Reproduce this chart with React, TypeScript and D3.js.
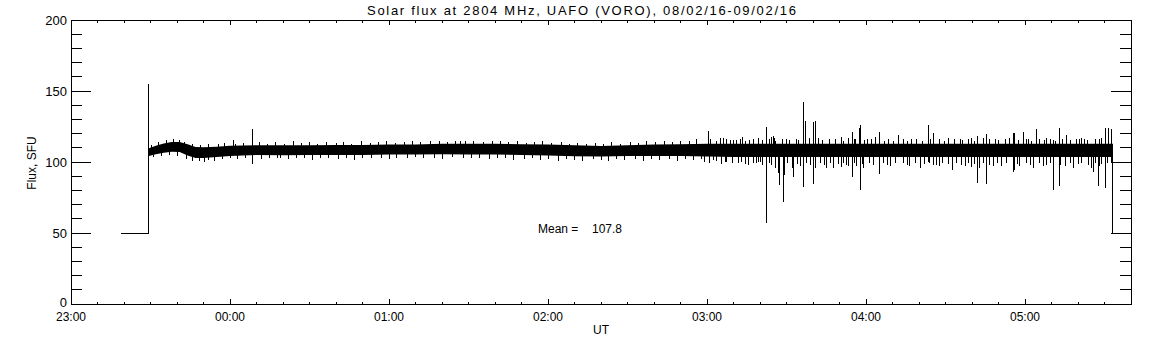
import React from "react";
import * as d3 from "d3";

// ---- data (time in minutes after 23:00 UT, flux in SFU) ----
const titleText = "Solar flux at 2804 MHz, UAFO (VORO),  08/02/16-09/02/16";
const yLabel = "Flux, SFU";
const xLabel = "UT";
const meanValue = "107.8";

const xTickMinutes = [0, 60, 120, 180, 240, 300, 360];
const xTickLabels = ["23:00", "00:00", "01:00", "02:00", "03:00", "04:00", "05:00"];
const yTicks = [0, 50, 100, 150, 200];

// calibration / step segments at start and end
const stepTime = [18.9, 29.1, 29.1, 29.4];
const stepValue = [50, 50, 155, 108];
const endTime = [393.2, 393.2];
const endValue = [108, 50];

// core band envelope
const bandTime = [29.4, 32, 35, 38, 41, 44, 47, 50, 55, 60, 70, 80, 90, 100, 110, 120, 130, 140, 150, 160, 170, 180, 190, 200, 210, 220, 230, 240, 250, 260, 280, 300, 320, 340, 360, 380, 393.2];
const bandUpper = [109.6, 111.5, 113, 114, 114, 112.5, 110.5, 110.3, 110.8, 111.5, 111.8, 111.8, 111.8, 112, 112, 112.3, 112.3, 112.8, 112.8, 112.8, 112.5, 112.3, 111.8, 111.3, 111.8, 112.3, 112.5, 112.8, 112.8, 112.8, 112.8, 112.8, 112.8, 112.8, 112.8, 112.8, 112.8];
const bandLower = [104.2, 105.5, 106.5, 107.3, 107, 104.5, 102.8, 102.8, 103.5, 104.2, 105, 104.8, 105, 105, 105, 105.3, 105.3, 105.5, 105.3, 105.3, 105, 104.5, 104, 103.8, 104.2, 104.2, 104.2, 103.8, 103.5, 103.5, 103.5, 103.5, 103.5, 103.5, 103.5, 103.5, 103.5];

// large spikes: time, low end, high end
const spikeTime = [
  50.3, 61.2, 68.4, 79.2, 146.8, 238.9, 240.5, 242.4, 246.2, 246.8, 248.7, 251.2, 251.8, 253.5, 255.6, 256.2, 258.7, 260.0,
  262.4, 265.0, 265.4, 265.7, 266.9, 267.5, 268.6, 268.8, 269.1, 271.3, 272.3, 272.6, 273.9, 275.1, 276.3, 277, 280.1, 281,
  282.0, 285.2, 286.4, 287.7, 290.6, 290.8, 292.7, 294.8, 296.2, 296.5, 297.4, 298.1, 299.0, 300.5, 305, 309.1, 312.2,
  316.6, 317.2, 320.4, 323.5, 325.3, 327.9, 331.1, 332.6, 335.5, 337.4, 339.9, 342.1, 343.0, 344.3, 345.4, 348.0, 348.7,
  351.2, 354.3, 355.5, 356.2, 358.1, 359.4, 361.3, 363.1, 364.4, 366.9, 368.2, 370.7, 372.9, 375.1, 375.7, 378.2, 379.5,
  382.6, 385.2, 385.8, 387.7, 388.3, 390.4, 391.5, 392.5,
];
const spikeLow = [
  100.2, 106, 98.8, 102.5, 108, 100.2, 104, 101.4, 106, 100.2, 106, 106, 99, 106, 97.8, 106, 99, 100.2,
  56.8, 106, 104, 95.5, 92.5, 83.8, 106, 71.6, 91, 106, 96, 89.7, 106, 97, 82.2, 104, 84.5, 95.5,
  106, 96, 106, 95.5, 96.7, 97, 98, 89.2, 106, 97, 104, 80, 96, 106, 91.8, 97, 104,
  97, 106, 96, 100, 98, 97, 106, 94.4, 106, 97, 96.7, 85.5, 96, 106, 84.5, 97, 106,
  97, 106, 93, 94.4, 97, 104, 106, 96, 104, 97, 106, 80.3, 83, 97, 104, 96, 106,
  106, 96, 92.7, 83, 97, 82, 104, 100,
];
const spikeHigh = [
  108, 115.5, 123.2, 108, 115, 110, 121.8, 110, 116.7, 110, 115.5, 115.5, 110, 117.8, 110, 115.5, 110, 110,
  124.4, 118.5, 117, 110, 112, 112, 116, 112, 110, 115.5, 110, 112, 116, 110, 142, 128.9, 128.4, 128.9,
  117, 110, 116, 112, 117.8, 110, 110, 121.4, 116, 110, 123.7, 126, 110, 116.5, 121.4, 110, 119,
  110, 116, 110, 126, 120.5, 116, 117, 112, 116, 110, 116.7, 118.5, 110, 117, 119.7, 110, 116,
  110, 117, 120.2, 120.7, 110, 120.9, 116, 110, 123.5, 110, 117, 115.5, 124.2, 110, 119, 110, 116,
  116.5, 110, 112, 112, 116, 123.7, 124.2, 123,
];

// small excursions above the band
const fuzzUpTime = [
  30.5, 33, 36, 38.5, 41, 43, 46, 49, 52, 55.5, 58, 62, 65, 71, 74, 77, 80.5, 84, 87, 90, 93, 96.5, 100, 103, 106,
  109.5, 113, 116, 119, 122.5, 126, 129, 132, 135.5, 139, 142, 145, 149, 152, 155.5, 159, 162, 165, 168.5, 172, 175,
  178, 181.5, 185, 188, 191, 194.5, 198, 201, 204, 207.5, 211, 214, 217, 220.5, 224, 227, 230, 233.5, 236,
  241.5, 243.5, 245, 247.5, 250, 252.5, 254.5, 257.5, 259.5, 261, 263.5, 264.5, 266, 270, 274.5, 278.5, 283.5, 288.5,
  291.5, 293.5, 295.5, 299.5, 302, 303.5, 307, 308.5, 310.5, 314, 315.5, 319, 321.5, 324.5, 329.5, 333.5, 336.5, 338.5,
  341, 346.5, 350, 352.5, 357.5, 360.5, 362.5, 365.5, 367.5, 369.5, 371.5, 374, 377, 380.5, 381.5, 383.5, 386.5, 389,
];
const fuzzUpValue = [
  112, 114, 115.5, 116, 115.5, 114, 112.5, 112, 112.5, 112.5, 113.5, 113, 113.5, 114, 113, 114, 113, 114.5, 113.5, 114, 113, 114, 113.5, 114, 113,
  114.5, 113.5, 114, 114.5, 113.5, 114, 115, 114, 114.5, 115, 114, 115, 114.5, 115, 114, 114.5, 115, 114, 114.5, 113.5, 114,
  114.5, 113.5, 114, 113, 113.5, 113, 113.5, 113, 114, 113, 114, 113.5, 114.5, 114, 115, 114, 115, 114.5, 116,
  116, 115, 117, 116, 115.5, 116.5, 115, 116, 117, 115.5, 116, 117.5, 115, 116.5, 115.5, 117, 115.5, 116,
  115, 117, 116, 115.5, 116, 117.5, 115, 116.5, 115, 116, 115, 116.5, 115, 116, 115, 116, 115.5, 116.5,
  115, 116, 115.5, 116, 115.5, 116, 115, 116, 115.5, 116.5, 115, 116, 115.5, 116, 117, 115.5, 116, 117,
];
// small excursions below the band
const fuzzDownTime = [
  31, 34, 37, 40, 43.5, 46, 48.5, 52, 54, 57, 60, 63, 66, 72, 75, 78, 82, 85, 88, 91, 94, 97, 101, 104, 107, 110,
  113.5, 117, 120, 123, 127, 130, 133, 137, 140, 144, 148, 151, 154, 158, 161, 164, 167, 171, 174, 177, 180, 184, 187,
  190, 193, 197, 200, 203, 206, 209, 213, 216, 219, 222, 226, 229, 232, 235, 238,
  241, 243.5, 245.5, 247.5, 249.5, 253, 254.5, 257.5, 259.5, 261, 263.5, 264.5, 267, 270.5, 274, 277.5, 279, 283, 284.5,
  286.5, 289.5, 291.5, 293.5, 295.5, 298.5, 301.5, 303, 306.5, 308, 311, 314, 315.5, 318.5, 322, 324, 326.5, 329, 331,
  334, 336, 338.5, 341, 344.5, 346.5, 349.5, 353, 357, 360.5, 362, 365.5, 368, 369.5, 373.5, 377, 380, 381.5, 384,
  386.5, 389, 391,
];
const fuzzDownValue = [
  103.5, 104.5, 105, 104.5, 102, 100.5, 101, 101.5, 101, 102, 102.5, 102, 103, 102, 102.5, 103, 102, 103, 102.5, 101.5, 102.5, 103, 102, 102.5, 101.5, 103,
  102.5, 103, 102, 103, 102.5, 103.5, 102.5, 103, 102, 103.5, 103, 102.5, 103, 102, 103, 102.5, 101.5, 102, 102.5, 101.5, 102, 101, 102,
  101.5, 101, 102, 101.5, 101, 102, 101.5, 102, 101, 102, 101.5, 102, 101, 102, 101.5, 102,
  99, 100.5, 98.5, 100, 99.5, 100, 98.5, 99, 100, 98, 99.5, 98, 97, 99, 98.5, 99.5, 98, 99, 98,
  99.5, 98.5, 99, 97.5, 99, 98.5, 99.5, 98, 99, 98, 99.5, 99, 98, 99.5, 98.5, 99, 98, 99.5, 98.5,
  99, 98, 99, 98.5, 99, 98, 99.5, 99, 98.5, 99.5, 98, 99, 98, 99.5, 98, 99, 98.5, 99.5, 98,
  99, 98.5, 99,
];

const FONT = "'Liberation Sans', Arial, sans-serif";

export default function App() {
  const x = d3.scaleLinear().domain([0, 400]).range([71, 1131]);
  const y = d3.scaleLinear().domain([0, 200]).range([304, 20]);

  const idx = d3.range(bandTime.length);
  const area = d3
    .area<number>()
    .x((i) => x(bandTime[i]))
    .y0((i) => y(bandLower[i]))
    .y1((i) => y(bandUpper[i]));
  const stepLine = d3
    .line<number>()
    .x((i) => x(stepTime[i]))
    .y((i) => y(stepValue[i]));
  const endLine = d3
    .line<number>()
    .x((i) => x(endTime[i]))
    .y((i) => y(endValue[i]));

  const xMinor = d3.range(0, 401, 10);
  const yMinor = d3.range(0, 201, 10);

  const L = x.range()[0];
  const R = x.range()[1];
  const B = y.range()[0];
  const T = y.range()[1];
  const mid = 108;

  return (
    <svg
      width={1152}
      height={345}
      style={{ position: "absolute", left: 0, top: 0, background: "#fff" }}
      fontFamily={FONT}
    >
      <rect x={0} y={0} width={1152} height={345} fill="#fff" />
      <text x={367} y={15} fontSize={13} textLength={429} lengthAdjust="spacing" fill="#000">
        {titleText}
      </text>

      {/* frame */}
      <rect x={L} y={T} width={R - L} height={B - T} fill="none" stroke="#000" strokeWidth={1} shapeRendering="crispEdges" />

      {/* y ticks left & right */}
      {yMinor.map((v) => {
        const major = v % 50 === 0;
        const len = major ? 20 : 11;
        return (
          <g key={"y" + v} stroke="#000" shapeRendering="crispEdges">
            <line x1={L} x2={L + len} y1={y(v)} y2={y(v)} />
            <line x1={R} x2={R - len} y1={y(v)} y2={y(v)} />
          </g>
        );
      })}
      {yTicks.map((v) => (
        <text key={"yl" + v} x={67} y={y(v) + (v === 0 ? 3 : 5)} fontSize={13} textAnchor="end" fill="#000">
          {v}
        </text>
      ))}

      {/* x ticks bottom & top */}
      {xMinor.map((m) => {
        const major = m % 60 === 0;
        const len = major ? 5 : 2.5;
        return (
          <g key={"x" + m} stroke="#000" shapeRendering="crispEdges">
            <line x1={x(m)} x2={x(m)} y1={B} y2={B - len} />
            <line x1={x(m)} x2={x(m)} y1={T} y2={T + len} />
          </g>
        );
      })}
      {xTickMinutes.map((m, i) => (
        <text key={"xl" + m} x={x(m)} y={321} fontSize={12} textAnchor="middle" fill="#000">
          {xTickLabels[i]}
        </text>
      ))}

      <text x={601} y={334} fontSize={12} textAnchor="middle" fill="#000">
        {xLabel}
      </text>
      <text transform={`translate(36,163) rotate(-90)`} fontSize={12} textAnchor="middle" fill="#000">
        {yLabel}
      </text>

      {/* data */}
      <path d={stepLine(d3.range(stepTime.length)) || ""} fill="none" stroke="#000" strokeWidth={1} shapeRendering="crispEdges" />
      <path d={area(idx) || ""} fill="#000" stroke="none" />
      <g stroke="#000" strokeWidth={1} shapeRendering="crispEdges">
        {fuzzUpTime.map((t, i) => (
          <line key={"fu" + i} x1={x(t)} x2={x(t)} y1={y(mid)} y2={y(fuzzUpValue[i])} />
        ))}
        {fuzzDownTime.map((t, i) => (
          <line key={"fd" + i} x1={x(t)} x2={x(t)} y1={y(mid)} y2={y(fuzzDownValue[i])} />
        ))}
        {spikeTime.map((t, i) => (
          <line key={"s" + i} x1={x(t)} x2={x(t)} y1={y(spikeLow[i])} y2={y(spikeHigh[i])} />
        ))}
      </g>
      <path d={endLine(d3.range(endTime.length)) || ""} fill="none" stroke="#000" strokeWidth={1} shapeRendering="crispEdges" />

      {/* mean */}
      <text x={538} y={233} fontSize={12} fill="#000">
        Mean =
      </text>
      <text x={622} y={233} fontSize={12} textAnchor="end" fill="#000">
        {meanValue}
      </text>
    </svg>
  );
}
